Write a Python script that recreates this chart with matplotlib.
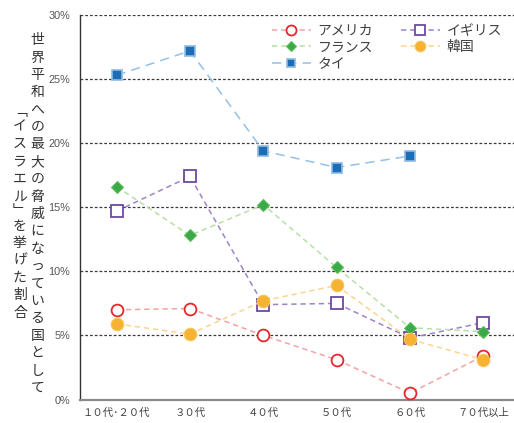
import matplotlib
matplotlib.use("Agg")
import matplotlib.pyplot as plt
from matplotlib.ticker import FuncFormatter

plt.rcParams['font.family'] = ['Noto Sans CJK JP', 'DejaVu Sans']

# age groups and share (%) naming each country
ages = ['１０代･２０代', '３０代', '４０代', '５０代', '６０代', '７０代以上']
usa = [7.0, 7.1, 5.0, 3.1, 0.5, 3.4]
uk = [14.7, 17.4, 7.4, 7.5, 4.8, 6.0]
france = [16.6, 12.8, 15.2, 10.3, 5.6, 5.3]
korea = [5.9, 5.1, 7.7, 8.9, 4.7, 3.1]
thai = [25.3, 27.2, 19.4, 18.1, 19.0]

W, H = 514, 423
fig = plt.figure(figsize=(W / 100, H / 100), dpi=100)
ax = fig.add_axes([80 / W, 23.5 / H, 440 / W, 384.5 / H])

x = list(range(len(ages)))

l_usa, = ax.plot(x, usa, color='#f4a3a3', lw=1.1, ls=(0, (3.5, 2.5)),
                 marker='o', ms=8.5, mfc='white', mec='#e8262a', mew=1.3, zorder=3)
l_uk, = ax.plot(x, uk, color='#9d83c8', lw=1.1, ls=(0, (3.5, 2.5)),
                marker='s', ms=8.5, mfc='white', mec='#7048a0', mew=1.3, zorder=3)
l_fr, = ax.plot(x, france, color='#b8e0a4', lw=1.1, ls=(0, (3.5, 2.5)),
                marker='D', ms=6, mfc='#3aaa48', mec='#5cbf5a', mew=0.8, zorder=4)
l_kr, = ax.plot(x, korea, color='#fcd491', lw=1.1, ls=(0, (3.5, 2.5)),
                marker='o', ms=9, mfc='#f6b233', mec='#f9c45c', mew=0.8, zorder=5)
l_th, = ax.plot(x[:len(thai)], thai, color='#93c0e8', lw=1.1, ls=(0, (6, 4)),
                marker='s', ms=7.5, mfc='#1c6db5', mec='#8dbbe3', mew=1.2, zorder=4)

ax.set_xlim(-0.5, 5.5)
ax.set_ylim(0, 30)
ax.set_yticks(range(0, 31, 5))
ax.yaxis.set_major_formatter(FuncFormatter(lambda v, p: '%d%%' % v))
ax.set_xticks(x)
ax.set_xticklabels(ages, fontsize=7.5, color='#404040')
ax.tick_params(axis='x', length=0, pad=6)
ax.tick_params(axis='y', length=0, pad=7, labelsize=7.8, labelcolor='#555555')
for lab in ax.get_yticklabels():
    lab.set_family(['Liberation Sans', 'DejaVu Sans'])

ax.grid(axis='y', color='#3a3a3a', lw=0.9, ls=(0, (2.2, 1.6)))
ax.set_axisbelow(True)
for s in ['top', 'right']:
    ax.spines[s].set_visible(False)
ax.spines['left'].set_color('#333333')
ax.spines['left'].set_linewidth(1.0)
ax.spines['bottom'].set_color('#8a8a8a')
ax.spines['bottom'].set_linewidth(1.6)

leg = ax.legend([l_usa, l_fr, l_th, l_uk, l_kr],
                ['アメリカ', 'フランス', 'タイ', 'イギリス', '韓国'],
                ncol=2, loc='upper left', bbox_to_anchor=(262 / W, 1 - 14 / H),
                bbox_transform=fig.transFigure, frameon=False, fontsize=10,
                handlelength=2.8, handletextpad=0.5, columnspacing=2.0,
                labelspacing=0.18, borderpad=0.2, labelcolor='#404040',
                markerscale=0.85)

# vertical two-column axis title
col_right = '世界平和への最大の脅威になっている国として'
col_left = '﹁イスラエル﹂を挙げた割合'
step = 17.4
for i, ch in enumerate(col_right):
    fig.text(37.5 / W, 1 - (40 + i * step) / H, ch, fontsize=10, color='#333333',
             ha='center', va='center')
y = 112
prev_half = None
for ch in col_left:
    half = 6 if ch in '﹁﹂' else step / 2
    if prev_half is not None:
        y += prev_half + half
    fig.text(20 / W, 1 - y / H, ch, fontsize=10, color='#333333',
             ha='center', va='center')
    prev_half = half

fig.savefig('out.png', dpi=100)
